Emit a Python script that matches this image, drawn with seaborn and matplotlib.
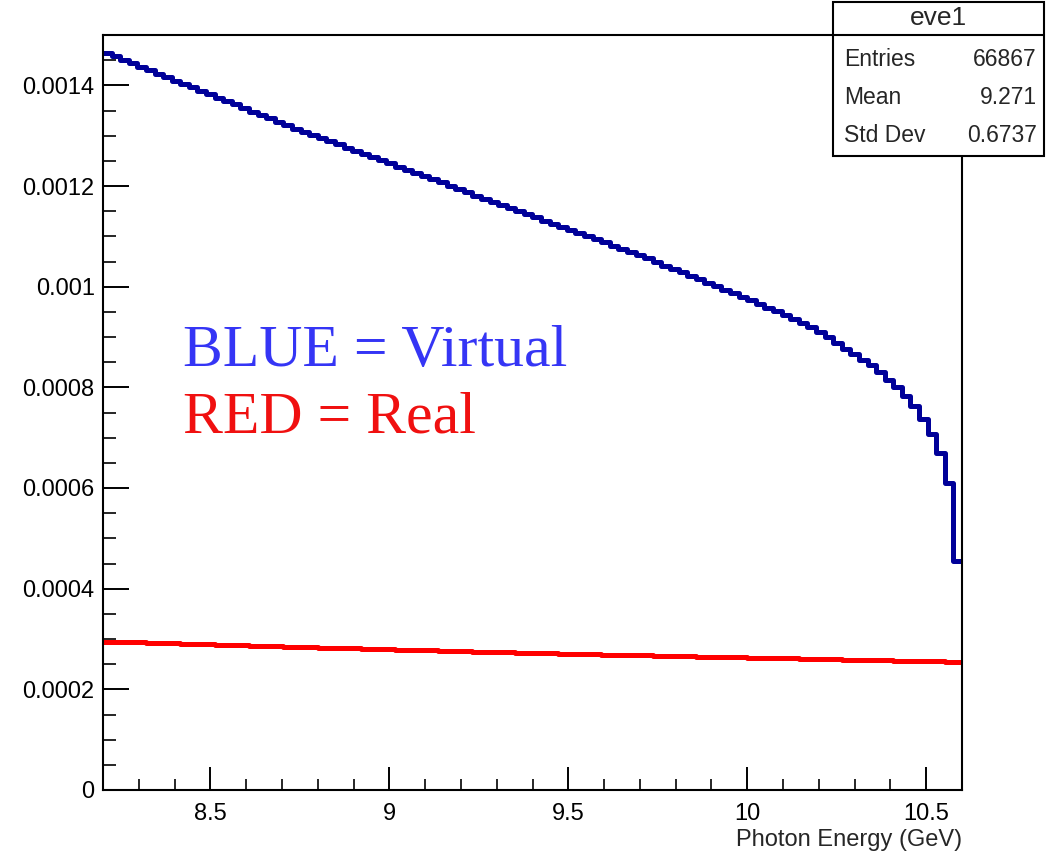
import numpy as np
import pandas as pd
import matplotlib
matplotlib.use("Agg")
import matplotlib.pyplot as plt
from matplotlib.ticker import MultipleLocator, FuncFormatter
from matplotlib.patches import Rectangle
from matplotlib.lines import Line2D
import seaborn as sns

# Histogram binning: 100 bins over the photon-energy window (GeV)
x_min, x_max, n_bins = 8.2, 10.6, 100

# Virtual-photon spectrum, bin contents (normalised)
virtual = [
    1.465e-3, 1.458e-3, 1.451e-3, 1.444e-3, 1.437e-3, 1.430e-3, 1.423e-3, 1.416e-3, 1.409e-3, 1.402e-3,
    1.396e-3, 1.389e-3, 1.382e-3, 1.375e-3, 1.368e-3, 1.362e-3, 1.355e-3, 1.348e-3, 1.341e-3, 1.335e-3,
    1.328e-3, 1.321e-3, 1.314e-3, 1.308e-3, 1.302e-3, 1.295e-3, 1.289e-3, 1.283e-3, 1.276e-3, 1.270e-3,
    1.264e-3, 1.257e-3, 1.251e-3, 1.245e-3, 1.238e-3, 1.232e-3, 1.226e-3, 1.219e-3, 1.213e-3, 1.207e-3,
    1.200e-3, 1.194e-3, 1.188e-3, 1.181e-3, 1.175e-3, 1.169e-3, 1.163e-3, 1.156e-3, 1.150e-3, 1.144e-3,
    1.138e-3, 1.131e-3, 1.125e-3, 1.119e-3, 1.113e-3, 1.106e-3, 1.100e-3, 1.094e-3, 1.088e-3, 1.081e-3,
    1.075e-3, 1.069e-3, 1.062e-3, 1.056e-3, 1.049e-3, 1.042e-3, 1.036e-3, 1.029e-3, 1.022e-3, 1.015e-3,
    1.008e-3, 1.001e-3, 0.994e-3, 0.987e-3, 0.980e-3, 0.973e-3, 0.966e-3, 0.958e-3, 0.951e-3, 0.943e-3,
    0.935e-3, 0.927e-3, 0.919e-3, 0.910e-3, 0.900e-3, 0.888e-3, 0.877e-3, 0.866e-3, 0.855e-3, 0.844e-3,
    0.831e-3, 0.815e-3, 0.801e-3, 0.782e-3, 0.762e-3, 0.737e-3, 0.708e-3, 0.670e-3, 0.610e-3, 0.455e-3,
]

# Real-photon spectrum, bin contents (normalised)
real = [
    2.950e-4, 2.945e-4, 2.940e-4, 2.936e-4, 2.931e-4, 2.926e-4, 2.921e-4, 2.916e-4, 2.911e-4, 2.907e-4,
    2.902e-4, 2.897e-4, 2.892e-4, 2.887e-4, 2.883e-4, 2.878e-4, 2.873e-4, 2.868e-4, 2.864e-4, 2.859e-4,
    2.854e-4, 2.849e-4, 2.845e-4, 2.840e-4, 2.835e-4, 2.830e-4, 2.826e-4, 2.821e-4, 2.817e-4, 2.812e-4,
    2.808e-4, 2.804e-4, 2.799e-4, 2.795e-4, 2.790e-4, 2.786e-4, 2.782e-4, 2.777e-4, 2.773e-4, 2.768e-4,
    2.764e-4, 2.760e-4, 2.755e-4, 2.751e-4, 2.747e-4, 2.742e-4, 2.738e-4, 2.734e-4, 2.729e-4, 2.725e-4,
    2.721e-4, 2.717e-4, 2.713e-4, 2.710e-4, 2.706e-4, 2.702e-4, 2.699e-4, 2.695e-4, 2.692e-4, 2.688e-4,
    2.684e-4, 2.681e-4, 2.677e-4, 2.674e-4, 2.670e-4, 2.666e-4, 2.663e-4, 2.659e-4, 2.656e-4, 2.652e-4,
    2.648e-4, 2.645e-4, 2.641e-4, 2.638e-4, 2.634e-4, 2.630e-4, 2.627e-4, 2.623e-4, 2.620e-4, 2.616e-4,
    2.613e-4, 2.609e-4, 2.606e-4, 2.602e-4, 2.599e-4, 2.595e-4, 2.592e-4, 2.588e-4, 2.585e-4, 2.581e-4,
    2.578e-4, 2.574e-4, 2.571e-4, 2.567e-4, 2.564e-4, 2.560e-4, 2.557e-4, 2.553e-4, 2.550e-4, 2.546e-4,
]

# Statistics box contents
stats_title = "eve1"
stats_names = ["Entries", "Mean", "Std Dev"]
stats_values = ["66867", "9.271", "0.6737"]

x_label = "Photon Energy (GeV)"
legend_lines = ["BLUE = Virtual", "RED = Real"]

sns.set_theme(style="ticks")
plt.rcParams["font.family"] = ["Liberation Sans", "DejaVu Sans"]

fig = plt.figure(figsize=(10.56, 8.56), dpi=100)
fig.patch.set_facecolor("white")
ax = fig.add_axes([103 / 1056, 1 - 790 / 856, (962 - 103) / 1056, (790 - 35) / 856])
ax.set_facecolor("white")

edges = np.linspace(x_min, x_max, n_bins + 1)
centers = 0.5 * (edges[:-1] + edges[1:])
df = pd.DataFrame({"energy": centers, "virtual": virtual, "real": real})

sns.histplot(data=df, x="energy", weights="virtual", bins=n_bins, binrange=(x_min, x_max),
             element="step", fill=False, color="#000099", linewidth=3.6, ax=ax)
sns.histplot(data=df, x="energy", weights="real", bins=n_bins, binrange=(x_min, x_max),
             element="step", fill=False, color="#ff0000", linewidth=3.6, ax=ax)

ax.set_xlim(x_min, x_max)
ax.set_ylim(0, 0.0015)
ax.set_ylabel("")
ax.set_xlabel("")

for side in ["left", "right", "top", "bottom"]:
    ax.spines[side].set_visible(True)
    ax.spines[side].set_linewidth(1.5)
    ax.spines[side].set_color("black")

ax.xaxis.set_major_locator(MultipleLocator(0.5))
ax.xaxis.set_minor_locator(MultipleLocator(0.1))
ax.yaxis.set_major_locator(MultipleLocator(0.0002))
ax.yaxis.set_minor_locator(MultipleLocator(0.00005))
ax.yaxis.set_major_formatter(FuncFormatter(lambda v, p: "{:g}".format(round(v, 6))))
ax.xaxis.set_major_formatter(FuncFormatter(lambda v, p: "{:g}".format(round(v, 3))))

ax.tick_params(axis="x", which="major", direction="in", length=16.5, width=1.4,
               labelsize=17, pad=9, top=False, colors="black")
ax.tick_params(axis="x", which="minor", direction="in", length=8, width=1.4, top=False)
ax.tick_params(axis="y", which="major", direction="in", length=18.5, width=1.4,
               labelsize=17, pad=6, right=False, colors="black")
ax.tick_params(axis="y", which="minor", direction="in", length=9.4, width=1.4, right=False)

fig.text(962 / 1056, 1 - 840 / 856, x_label, ha="right", va="center", fontsize=17)

# Colour key written inside the frame
ax.text(0.093, 0.561, legend_lines[0], transform=ax.transAxes, color="#3535f5",
        fontsize=43, family=["Liberation Serif", "DejaVu Serif"], ha="left", va="baseline")
ax.text(0.093, 0.473, legend_lines[1], transform=ax.transAxes, color="#f01010",
        fontsize=43, family=["Liberation Serif", "DejaVu Serif"], ha="left", va="baseline")

# Statistics box (top right, overlapping the frame)
bx0, bx1, by0, by1 = 833, 1044, 2, 156
fx = lambda px: px / 1056
fy = lambda py: 1 - py / 856
box = Rectangle((fx(bx0), fy(by1)), fx(bx1) - fx(bx0), fy(by0) - fy(by1),
                transform=fig.transFigure, facecolor="white", edgecolor="black",
                linewidth=1.5, zorder=10)
fig.add_artist(box)
fig.add_artist(Line2D([fx(bx0), fx(bx1)], [fy(35), fy(35)], transform=fig.transFigure,
                      color="black", linewidth=1.5, zorder=11))
fig.text(fx((bx0 + bx1) / 2), fy(18), stats_title, ha="center", va="center",
         fontsize=19, zorder=12)
for name, val, py in zip(stats_names, stats_values, [60, 98, 136]):
    fig.text(fx(844), fy(py), name, ha="left", va="center", fontsize=16.5, zorder=12)
    fig.text(fx(1037), fy(py), val, ha="right", va="center", fontsize=16.5, zorder=12)

fig.savefig("out.png", dpi=100, facecolor="white")
